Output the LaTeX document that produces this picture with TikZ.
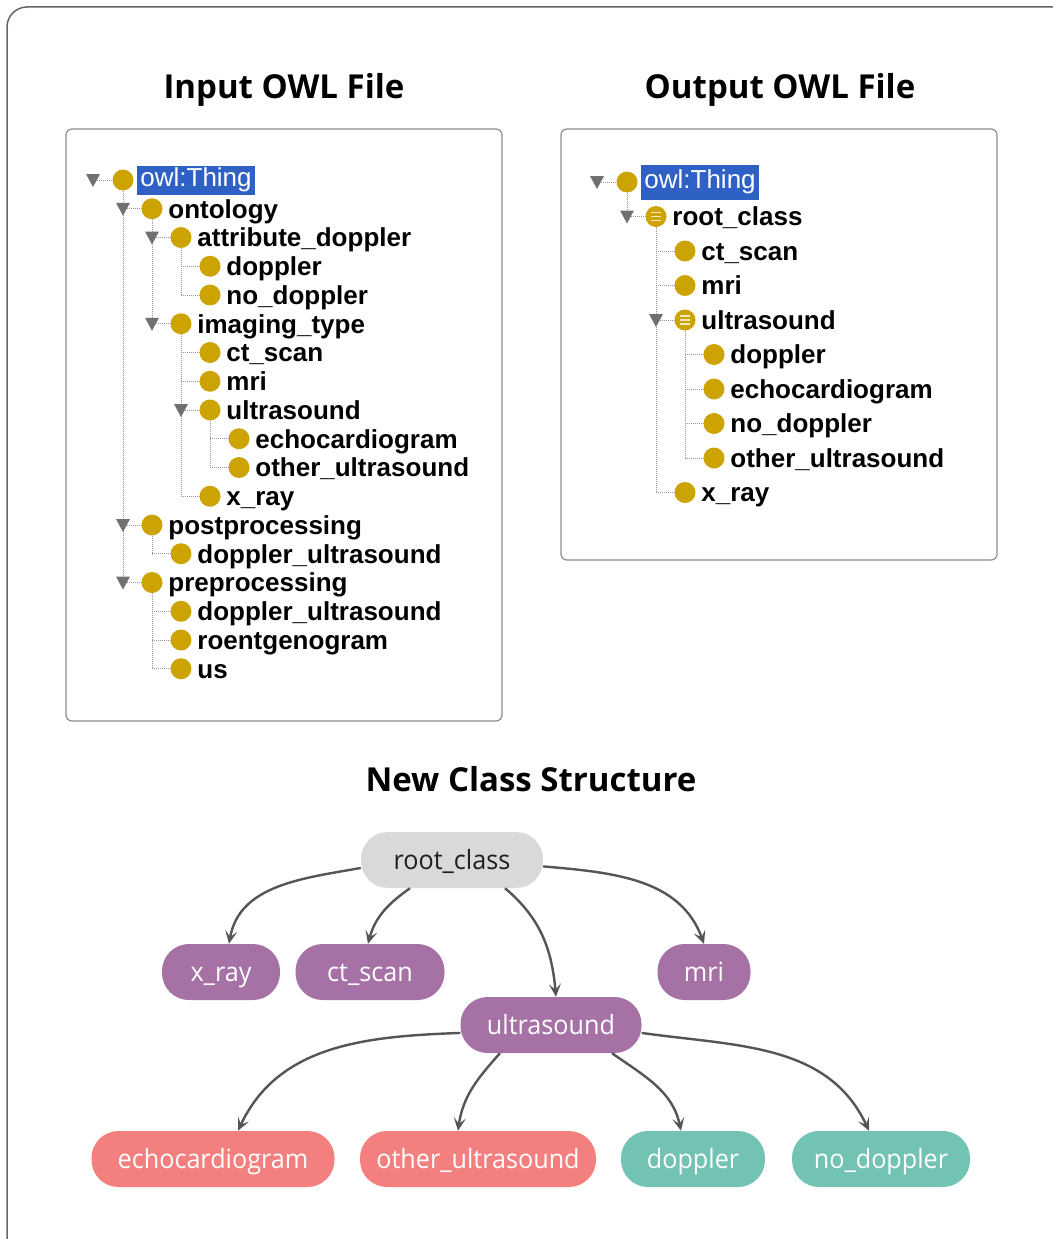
\documentclass[tikz,border=0pt]{standalone}
\usepackage{fontspec}
\usetikzlibrary{arrows.meta}
\newfontfamily\treefont{Liberation Sans}
\newfontfamily\uifont{Open Sans}
\newfontfamily\clsfont{Open Sans}[FakeStretch=0.95]

\definecolor{owlgold}{RGB}{204,163,0}
\definecolor{selblue}{RGB}{47,96,196}
\definecolor{trigray}{RGB}{112,112,112}
\definecolor{dotgray}{RGB}{150,150,150}
\definecolor{boxgray}{RGB}{140,140,140}
\definecolor{framegray}{RGB}{100,100,100}
\definecolor{rootgray}{RGB}{217,217,217}
\definecolor{clspurple}{RGB}{166,114,166}
\definecolor{clssalmon}{RGB}{244,127,127}
\definecolor{clsteal}{RGB}{115,195,180}
\definecolor{edgegray}{RGB}{85,85,85}

\tikzset{
  owldot/.style={circle,fill=owlgold,inner sep=0pt,minimum size=21pt},
  owltext/.style={font=\treefont\bfseries\fontsize{26}{30}\selectfont,inner sep=0pt,xshift=5.5pt,text height=18.5pt,text depth=0pt},
  owleq/.style={owldot,path picture={
      \foreach \d in {-4,0,4}
        \draw[owlgold!25,line width=1.6pt] ([xshift=-5pt,yshift=\d pt]path picture bounding box.center) -- ++(10pt,0pt);}},
  owlsel/.style={font=\treefont\fontsize{26}{30}\selectfont,fill=selblue,text=white,xshift=3.5pt,inner xsep=3pt,text height=18.5pt,text depth=5.5pt},
  conn/.style={dotgray,line width=0.9pt,dash pattern=on 1pt off 1pt},
  tri/.pic={\fill[trigray] (-7pt,6pt) -- (7pt,6pt) -- (0pt,-7pt) -- cycle;},
  owlbox/.style={draw=boxgray,line width=1.2pt,rounded corners=6pt},
  title/.style={font=\uifont\bfseries\fontsize{33}{38}\selectfont,anchor=base},
  cls/.style={rounded corners=27pt,minimum height=56pt,inner sep=0pt,text=white,text height=19pt,text depth=0pt,font=\clsfont\fontsize{26.5}{30}\selectfont},
  isa/.style={edgegray,line width=2.4pt,-{Stealth[length=13pt,width=12pt,inset=6pt]}}
}

\begin{document}
\begin{tikzpicture}[x=1pt,y=1pt]
  \useasboundingbox (0,0) rectangle (1052,-1239);
  \draw[framegray,line width=1.5pt,rounded corners=20pt] (7,-7) rectangle (1075,-1260);

  % titles
  \node[title] (tin) at (284,-99) {Input OWL File};
  \node[title] (tout) at (780,-99) {Output OWL File};
  \node[title] (tnew) at (531,-791) {New Class Structure};

  \draw[owlbox] (66,-129) rectangle (502,-721);
  \draw[owlbox] (561,-129) rectangle (997,-560);

  % input tree
  \node[owldot,label={[owlsel,inner ysep=2.5pt]right:{owl:Thing}}] (in1) at (123,-180) {};
  \node[owldot,label={[owltext]right:ontology}] (in2) at (152,-208.75) {};
  \node[owldot,label={[owltext]right:attribute\_doppler}] (in3) at (181,-237.5) {};
  \node[owldot,label={[owltext]right:doppler}] (in4) at (210,-266.25) {};
  \node[owldot,label={[owltext]right:no\_doppler}] (in5) at (210,-295) {};
  \node[owldot,label={[owltext]right:imaging\_type}] (in6) at (181,-323.75) {};
  \node[owldot,label={[owltext]right:ct\_scan}] (in7) at (210,-352.5) {};
  \node[owldot,label={[owltext]right:mri}] (in8) at (210,-381.25) {};
  \node[owldot,label={[owltext]right:ultrasound}] (in9) at (210,-410) {};
  \node[owldot,label={[owltext]right:echocardiogram}] (in10) at (239,-438.75) {};
  \node[owldot,label={[owltext]right:other\_ultrasound}] (in11) at (239,-467.5) {};
  \node[owldot,label={[owltext]right:x\_ray}] (in12) at (210,-496.25) {};
  \node[owldot,label={[owltext]right:postprocessing}] (in13) at (152,-525) {};
  \node[owldot,label={[owltext]right:doppler\_ultrasound}] (in14) at (181,-553.75) {};
  \node[owldot,label={[owltext]right:preprocessing}] (in15) at (152,-582.5) {};
  \node[owldot,label={[owltext]right:doppler\_ultrasound}] (in16) at (181,-611.25) {};
  \node[owldot,label={[owltext]right:roentgenogram}] (in17) at (181,-640) {};
  \node[owldot,label={[owltext]right:us}] (in18) at (181,-668.75) {};

  \coordinate (in0) at (93,-180);
  \draw[conn] (in0) -- (in1.west);
  \draw[conn] (in1.south) -- (in1 |- in15);
  \draw[conn] (in1 |- in2) -- (in2.west);
  \draw[conn] (in1 |- in13) -- (in13.west);
  \draw[conn] (in1 |- in15) -- (in15.west);
  \draw[conn] (in2.south) -- (in2 |- in6);
  \draw[conn] (in2 |- in3) -- (in3.west);
  \draw[conn] (in2 |- in6) -- (in6.west);
  \draw[conn] (in3.south) -- (in3 |- in5);
  \draw[conn] (in3 |- in4) -- (in4.west);
  \draw[conn] (in3 |- in5) -- (in5.west);
  \draw[conn] (in6.south) -- (in6 |- in12);
  \draw[conn] (in6 |- in7) -- (in7.west);
  \draw[conn] (in6 |- in8) -- (in8.west);
  \draw[conn] (in6 |- in9) -- (in9.west);
  \draw[conn] (in6 |- in12) -- (in12.west);
  \draw[conn] (in9.south) -- (in9 |- in11);
  \draw[conn] (in9 |- in10) -- (in10.west);
  \draw[conn] (in9 |- in11) -- (in11.west);
  \draw[conn] (in13.south) -- (in13 |- in14);
  \draw[conn] (in13 |- in14) -- (in14.west);
  \draw[conn] (in15.south) -- (in15 |- in18);
  \draw[conn] (in15 |- in16) -- (in16.west);
  \draw[conn] (in15 |- in17) -- (in17.west);
  \draw[conn] (in15 |- in18) -- (in18.west);
  % routine for triangles
  \path (in0) pic {tri};
  \path (in1 |- in2) pic {tri};
  \path (in2 |- in3) pic {tri};
  \path (in2 |- in6) pic {tri};
  \path (in6 |- in9) pic {tri};
  \path (in1 |- in13) pic {tri};
  \path (in1 |- in15) pic {tri};

  % output tree
  \node[owldot,label={[owlsel,inner ysep=5.5pt]right:{owl:Thing}}] (out1) at (627,-182) {};
  \node[owleq,label={[owltext]right:root\_class}] (out2) at (656,-216.5) {};
  \node[owldot,label={[owltext]right:ct\_scan}] (out3) at (685,-251) {};
  \node[owldot,label={[owltext]right:mri}] (out4) at (685,-285.5) {};
  \node[owleq,label={[owltext]right:ultrasound}] (out5) at (685,-320) {};
  \node[owldot,label={[owltext]right:doppler}] (out6) at (714,-354.5) {};
  \node[owldot,label={[owltext]right:echocardiogram}] (out7) at (714,-389) {};
  \node[owldot,label={[owltext]right:no\_doppler}] (out8) at (714,-423.5) {};
  \node[owldot,label={[owltext]right:other\_ultrasound}] (out9) at (714,-458) {};
  \node[owldot,label={[owltext]right:x\_ray}] (out10) at (685,-492.5) {};

  \coordinate (out0) at (597,-182);
  \draw[conn] (out0) -- (out1.west);
  \draw[conn] (out1.south) -- (out1 |- out2);
  \draw[conn] (out1 |- out2) -- (out2.west);
  \draw[conn] (out2.south) -- (out2 |- out10);
  \draw[conn] (out2 |- out3) -- (out3.west);
  \draw[conn] (out2 |- out4) -- (out4.west);
  \draw[conn] (out2 |- out5) -- (out5.west);
  \draw[conn] (out2 |- out10) -- (out10.west);
  \draw[conn] (out5.south) -- (out5 |- out9);
  \draw[conn] (out5 |- out6) -- (out6.west);
  \draw[conn] (out5 |- out7) -- (out7.west);
  \draw[conn] (out5 |- out8) -- (out8.west);
  \draw[conn] (out5 |- out9) -- (out9.west);
  \path (out0) pic {tri};
  \path (out1 |- out2) pic {tri};
  \path (out2 |- out5) pic {tri};

  % new class structure
  \node[cls,fill=rootgray,text=black!88,minimum width=182pt] (root) at (452,-860) {root\_class};
  \node[cls,fill=clspurple,minimum width=118pt] (xray) at (221,-972) {x\_ray};
  \node[cls,fill=clspurple,minimum width=149pt] (ctscan) at (370,-972) {ct\_scan};
  \node[cls,fill=clspurple,minimum width=93pt] (mri) at (704,-972) {mri};
  \node[cls,fill=clspurple,minimum width=181pt] (us) at (551,-1025) {ultrasound};
  \node[cls,fill=clssalmon,minimum width=243pt] (echo) at (213,-1159) {echocardiogram};
  \node[cls,fill=clssalmon,minimum width=236pt] (other) at (478,-1159) {other\_ultrasound};
  \node[cls,fill=clsteal,minimum width=144pt] (dop) at (693,-1159) {doppler};
  \node[cls,fill=clsteal,minimum width=178pt] (nodop) at (881,-1159) {no\_doppler};

  \draw[isa] (root.185) to[out=190,in=80] ([xshift=8pt]xray.north);
  \draw[isa] ([xshift=-42pt]root.south) to[out=215,in=75] ([xshift=-2pt]ctscan.north);
  \draw[isa] ([xshift=53pt]root.south) to[out=-40,in=95] ([xshift=5pt]us.north);
  \draw[isa] (root.-4) to[out=-5,in=110] (mri.north);
  \draw[isa] (us.185) to[out=182,in=65] ([xshift=25pt]echo.north);
  \draw[isa] ([xshift=-51pt]us.south) to[out=228,in=82] ([xshift=-20pt]other.north);
  \draw[isa] ([xshift=61pt]us.south) to[out=-35,in=102] ([xshift=-12pt]dop.north);
  \draw[isa] (us.-5) to[out=-8,in=115] ([xshift=-12pt]nodop.north);
\end{tikzpicture}
\end{document}
